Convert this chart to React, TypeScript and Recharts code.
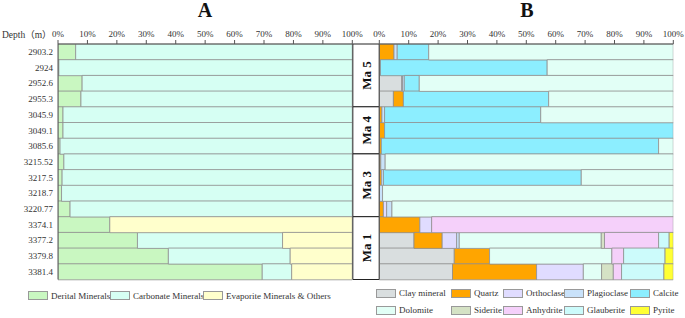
import React from 'react';
import { BarChart, Bar, XAxis, YAxis, ReferenceArea } from 'recharts';

// sample depths (m), top to bottom
const depths = [
  '2903.2', '2924', '2952.6', '2955.3', '3045.9', '3049.1', '3085.6',
  '3215.52', '3217.5', '3218.7', '3220.77', '3374.1', '3377.2', '3379.8', '3381.4',
];

// chart A: mineral groups (%)
const derital = [6.0, 0.3, 8.2, 7.8, 1.7, 1.7, 0.7, 2.0, 1.4, 1.2, 4.1, 17.6, 27.0, 37.5, 69.4];
const carbonate = [94.0, 99.7, 91.8, 92.2, 98.3, 98.3, 99.3, 98.0, 98.6, 98.8, 95.9, 0, 49.3, 41.4, 10.0];
const evaporite = [0, 0, 0, 0, 0, 0, 0, 0, 0, 0, 0, 82.4, 23.7, 21.1, 20.6];

// chart B: single minerals (%)
const clay = [0, 0.4, 7.6, 4.8, 0, 0, 0, 0, 0, 0, 0, 0, 11.8, 25.5, 24.9];
const quartz = [5.0, 0, 0, 3.4, 0.9, 1.8, 0.7, 0.5, 0.7, 0, 1.4, 13.8, 9.6, 12.0, 28.6];
const orthoclase = [0, 0, 0.3, 0, 0, 0, 0, 0, 0, 0, 1.1, 4.0, 4.9, 0, 15.9];
const plagioclase = [1.1, 0, 0.6, 0, 0.9, 0, 0, 1.5, 0.7, 1.1, 1.8, 0, 0.9, 0, 0];
const calcite = [10.7, 56.7, 5.1, 49.4, 53.1, 98.2, 94.3, 0, 67.3, 0, 0, 0, 0, 0, 0];
const dolomite = [83.2, 42.9, 86.4, 42.4, 45.1, 0, 5.0, 98.0, 31.3, 98.9, 95.7, 0, 48.3, 41.6, 6.2];
const siderite = [0, 0, 0, 0, 0, 0, 0, 0, 0, 0, 0, 0, 1.1, 0, 4.0];
const anhydrite = [0, 0, 0, 0, 0, 0, 0, 0, 0, 0, 0, 82.2, 18.4, 4.0, 2.8];
const glauberite = [0, 0, 0, 0, 0, 0, 0, 0, 0, 0, 0, 0, 3.6, 14.1, 14.4];
const pyrite = [0, 0, 0, 0, 0, 0, 0, 0, 0, 0, 0, 0, 1.4, 2.8, 3.2];

const pctTicks = [0, 10, 20, 30, 40, 50, 60, 70, 80, 90, 100];

const maGroups = [
  { name: 'Ma 5', from: '2903.2', to: '2955.3' },
  { name: 'Ma 4', from: '3045.9', to: '3085.6' },
  { name: 'Ma 3', from: '3215.52', to: '3220.77' },
  { name: 'Ma 1', from: '3374.1', to: '3381.4' },
];

const leftSeries = [
  { key: 'derital', name: 'Derital Minerals', color: '#C9F7C1', values: derital },
  { key: 'carbonate', name: 'Carbonate Minerals', color: '#D6FFF3', values: carbonate },
  { key: 'evaporite', name: 'Evaporite Minerals & Others', color: '#FFFFCC', values: evaporite },
];

const rightSeries = [
  { key: 'clay', name: 'Clay mineral', color: '#D9DEDF', values: clay },
  { key: 'quartz', name: 'Quartz', color: '#FFA500', values: quartz },
  { key: 'orthoclase', name: 'Orthoclase', color: '#E0DCFF', values: orthoclase },
  { key: 'plagioclase', name: 'Plagioclase', color: '#C9E2FA', values: plagioclase },
  { key: 'calcite', name: 'Calcite', color: '#8CEEFF', values: calcite },
  { key: 'dolomite', name: 'Dolomite', color: '#E2FFF6', values: dolomite },
  { key: 'siderite', name: 'Siderite', color: '#D5E2C5', values: siderite },
  { key: 'anhydrite', name: 'Anhydrite', color: '#F5D0FA', values: anhydrite },
  { key: 'glauberite', name: 'Glauberite', color: '#CCFBFB', values: glauberite },
  { key: 'pyrite', name: 'Pyrite', color: '#FFFF33', values: pyrite },
];

const FONT = '"Liberation Serif", "Times New Roman", "Noto Sans CJK SC", serif';
const AXIS = '#555';
const BAR_STROKE = '#8f8f8f';

function buildRows(series: typeof leftSeries) {
  return depths.map((depth, i) => {
    const row: any = { depth };
    series.forEach((s) => (row[s.key] = s.values[i]));
    return row;
  });
}

const pctAxis = {
  type: 'number' as const,
  orientation: 'top' as const,
  domain: [0, 100],
  allowDataOverflow: true,
  ticks: pctTicks,
  interval: 0,
  height: 30,
  tickSize: 4,
  tickMargin: 3,
  tickFormatter: (v: number) => `${v}%`,
  tick: { fontSize: 9, fill: '#333' },
  stroke: AXIS,
};

function Swatch({ color }: { color: string }) {
  return (
    <span
      style={{
        display: 'inline-block',
        width: 18,
        height: 7,
        background: color,
        border: '1px solid #999',
        marginRight: 3,
        flex: 'none',
      }}
    />
  );
}

export default function App() {
  const leftRows = buildRows(leftSeries);
  const rightRows = buildRows(rightSeries);
  const leftLegendWidths = [82, 93, 160];
  const rightColWidths = [75, 52, 61, 66, 56];

  return (
    <div style={{ position: 'absolute', left: 0, top: 0, width: 685, height: 318, background: '#fff', fontFamily: FONT, color: '#333' }}>
      <div style={{ position: 'absolute', left: 190, top: 0, width: 30, textAlign: 'center', fontSize: 20, lineHeight: '20px', fontWeight: 'bold', color: '#111' }}>A</div>
      <div style={{ position: 'absolute', left: 512, top: 0, width: 30, textAlign: 'center', fontSize: 20, lineHeight: '20px', fontWeight: 'bold', color: '#111' }}>B</div>
      <div style={{ position: 'absolute', left: 2, top: 29, fontSize: 9.5, lineHeight: '12px', whiteSpace: 'nowrap' }}>Depth（m）</div>

      <div style={{ position: 'absolute', left: 0, top: 0 }}>
        <BarChart
          width={372}
          height={318}
          data={leftRows}
          layout="vertical"
          barCategoryGap={0}
          margin={{ top: 14, right: 19.7, left: 0, bottom: 38.5 }}
          style={{ fontFamily: FONT }}
        >
          <XAxis {...pctAxis} />
          <YAxis
            type="category"
            dataKey="depth"
            width={58}
            interval={0}
            tickLine={false}
            tickSize={3}
            tickMargin={2}
            tick={{ fontSize: 9, fill: '#333' }}
            stroke={AXIS}
          />
          {leftSeries.map((s) => (
            <Bar key={s.key} dataKey={s.key} name={s.name} stackId="a" fill={s.color} stroke={BAR_STROKE} strokeWidth={0.8} isAnimationActive={false} />
          ))}
        </BarChart>
      </div>

      <div style={{ position: 'absolute', left: 340, top: 0 }}>
        <BarChart
          width={345}
          height={318}
          data={rightRows}
          layout="vertical"
          barCategoryGap={0}
          margin={{ top: 14, right: 11.7, left: 0, bottom: 38.5 }}
          style={{ fontFamily: FONT }}
        >
          <XAxis {...pctAxis} />
          <YAxis type="category" dataKey="depth" width={39.3} interval={0} tick={false} tickLine={false} stroke={AXIS} />
          {rightSeries.map((s) => (
            <Bar key={s.key} dataKey={s.key} name={s.name} stackId="b" fill={s.color} stroke={BAR_STROKE} strokeWidth={0.8} isAnimationActive={false} />
          ))}
          {maGroups.map((g) => (
            <ReferenceArea
              key={g.name}
              x1={-9}
              x2={0}
              y1={g.from}
              y2={g.to}
              ifOverflow="visible"
              fill="#fff"
              fillOpacity={1}
              stroke="#222"
              strokeWidth={1}
              label={{ value: g.name, position: 'center', angle: -90, fontSize: 13, fontWeight: 'bold', fill: '#111' }}
            />
          ))}
        </BarChart>
      </div>

      {/* legend A */}
      <div style={{ position: 'absolute', left: 28, top: 289.5, display: 'flex', fontSize: 9, lineHeight: '12px' }}>
        {leftSeries.map((s, i) => (
          <div key={s.key} style={{ width: leftLegendWidths[i], display: 'flex', alignItems: 'center', whiteSpace: 'nowrap' }}>
            <Swatch color={s.color} />
            <span>{s.name}</span>
          </div>
        ))}
      </div>

      {/* legend B */}
      <div style={{ position: 'absolute', left: 376, top: 287, display: 'grid', gridTemplateColumns: rightColWidths.map((w) => `${w}px`).join(' '), rowGap: 5, fontSize: 9, lineHeight: '12px' }}>
        {rightSeries.map((s) => (
          <div key={s.key} style={{ display: 'flex', alignItems: 'center', whiteSpace: 'nowrap' }}>
            <Swatch color={s.color} />
            <span>{s.name}</span>
          </div>
        ))}
      </div>
    </div>
  );
}
